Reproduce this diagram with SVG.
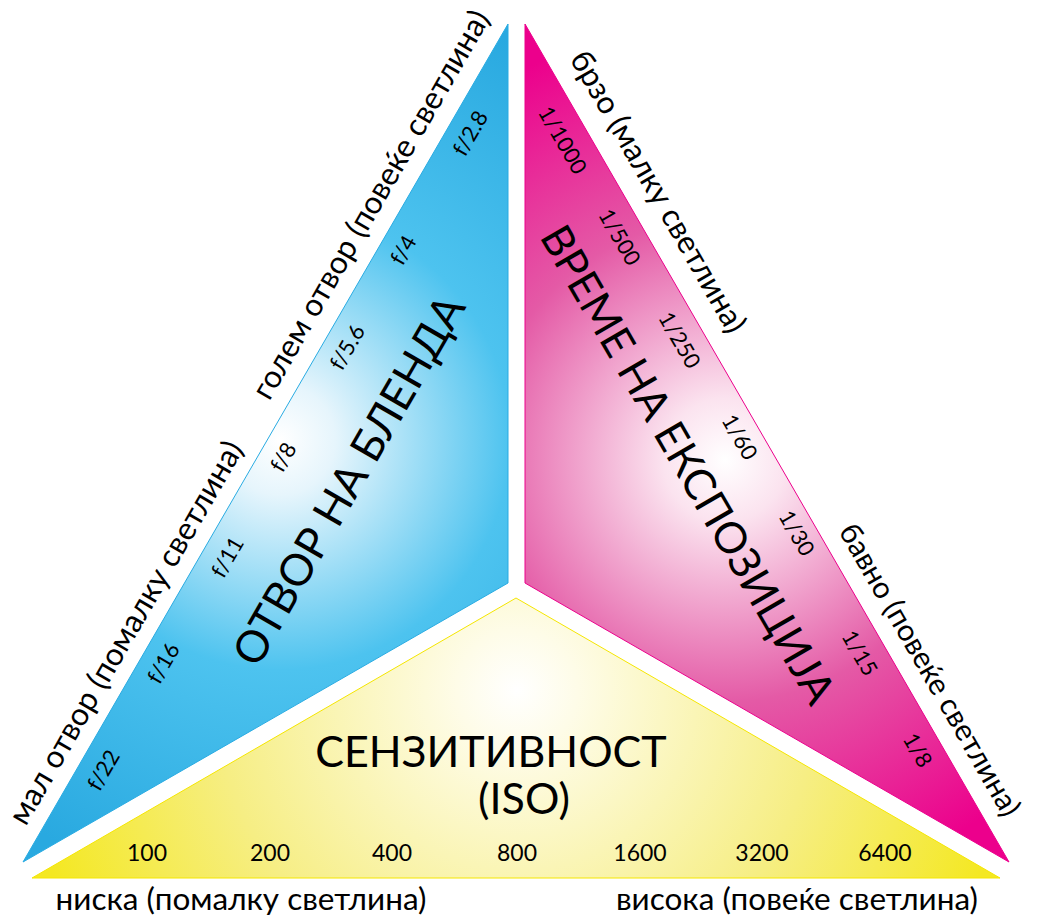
<svg xmlns="http://www.w3.org/2000/svg" width="1037" height="917" viewBox="0 0 1037 917">
<defs>
<radialGradient id="gBlue" gradientUnits="userSpaceOnUse" cx="280" cy="440" r="460">
<stop offset="0" stop-color="#ffffff"/>
<stop offset="0.12" stop-color="#e6f5fc"/>
<stop offset="0.5" stop-color="#4dc3ef"/>
<stop offset="1" stop-color="#29a9e0"/>
</radialGradient>
<radialGradient id="gMag" gradientUnits="userSpaceOnUse" cx="725" cy="460" r="440">
<stop offset="0" stop-color="#ffffff"/>
<stop offset="0.14" stop-color="#fbe3ef"/>
<stop offset="0.55" stop-color="#e45aa6"/>
<stop offset="1" stop-color="#ec008c"/>
</radialGradient>
<radialGradient id="gYel" gradientUnits="userSpaceOnUse" cx="517" cy="690" r="500">
<stop offset="0" stop-color="#ffffff"/>
<stop offset="0.12" stop-color="#fefce8"/>
<stop offset="0.6" stop-color="#f6ee84"/>
<stop offset="1" stop-color="#f4e822"/>
</radialGradient>
</defs>
<style>
text{font-family:Lato,"Liberation Sans",sans-serif;fill:#000}
.lbl{font-size:22px;text-anchor:middle}
.side{font-size:31.5px;text-anchor:middle}
.big{font-size:43px;text-anchor:middle}
.iso{font-size:23px;text-anchor:middle}
</style>
<rect width="1037" height="917" fill="#ffffff"/>
<g id="aperture">
<polygon points="508,24 508,583 23,862" fill="url(#gBlue)" stroke="#29abe2" stroke-width="1"/>
<text class="big" style="font-size:44px" transform="translate(362,488) rotate(-60)">ОТВОР НА БЛЕНДА</text>
<text class="lbl" transform="translate(110,774) rotate(-60)">f/22</text>
<text class="lbl" transform="translate(170,667) rotate(-60)">f/16</text>
<text class="lbl" transform="translate(234,561) rotate(-60)">f/11</text>
<text class="lbl" transform="translate(290,461) rotate(-60)">f/8</text>
<text class="lbl" transform="translate(354,351) rotate(-60)">f/5.6</text>
<text class="lbl" transform="translate(410,254) rotate(-60)">f/4</text>
<text class="lbl" transform="translate(477,137) rotate(-60)">f/2.8</text>
<text class="side" transform="translate(135,638) rotate(-60)">мал отвор (помалку светлина)</text>
<text class="side" transform="translate(380,210) rotate(-60)">голем отвор (повеќе светлина)</text>
</g>
<g id="shutter">
<polygon points="525,24 525,583 1009,862" fill="url(#gMag)" stroke="#ec008c" stroke-width="1"/>
<text class="big" transform="translate(675,472) rotate(60)">ВРЕМЕ НА ЕКСПОЗИЦИЈА</text>
<text class="lbl" transform="translate(556,144) rotate(60)">1/1000</text>
<text class="lbl" transform="translate(613,241) rotate(60)">1/500</text>
<text class="lbl" transform="translate(673,344) rotate(60)">1/250</text>
<text class="lbl" transform="translate(733,441) rotate(60)">1/60</text>
<text class="lbl" transform="translate(790,537) rotate(60)">1/30</text>
<text class="lbl" transform="translate(853,657) rotate(60)">1/15</text>
<text class="lbl" transform="translate(911,754) rotate(60)">1/8</text>
<text class="side" transform="translate(649,197) rotate(60)">брзо (малку светлина)</text>
<text class="side" style="font-size:30px" transform="translate(921,675) rotate(60)">бавно (повеќе светлина)</text>
</g>
<g id="iso">
<polygon points="516,598 32,878 1000,878" fill="url(#gYel)" stroke="#f5e600" stroke-width="1"/>
<text class="big" x="491" y="767">СЕНЗИТИВНОСТ</text>
<text class="big" x="524" y="814">(ISO)</text>
<text class="iso" x="147" y="861">100</text>
<text class="iso" x="270" y="861">200</text>
<text class="iso" x="392" y="861">400</text>
<text class="iso" x="517" y="861">800</text>
<text class="iso" x="640" y="861">1600</text>
<text class="iso" x="762" y="861">3200</text>
<text class="iso" x="885" y="861">6400</text>
<text class="side" x="241" y="910">ниска (помалку светлина)</text>
<text class="side" x="797" y="910">висока (повеќе светлина)</text>
</g>
<g id="connectors"/>
</svg>
